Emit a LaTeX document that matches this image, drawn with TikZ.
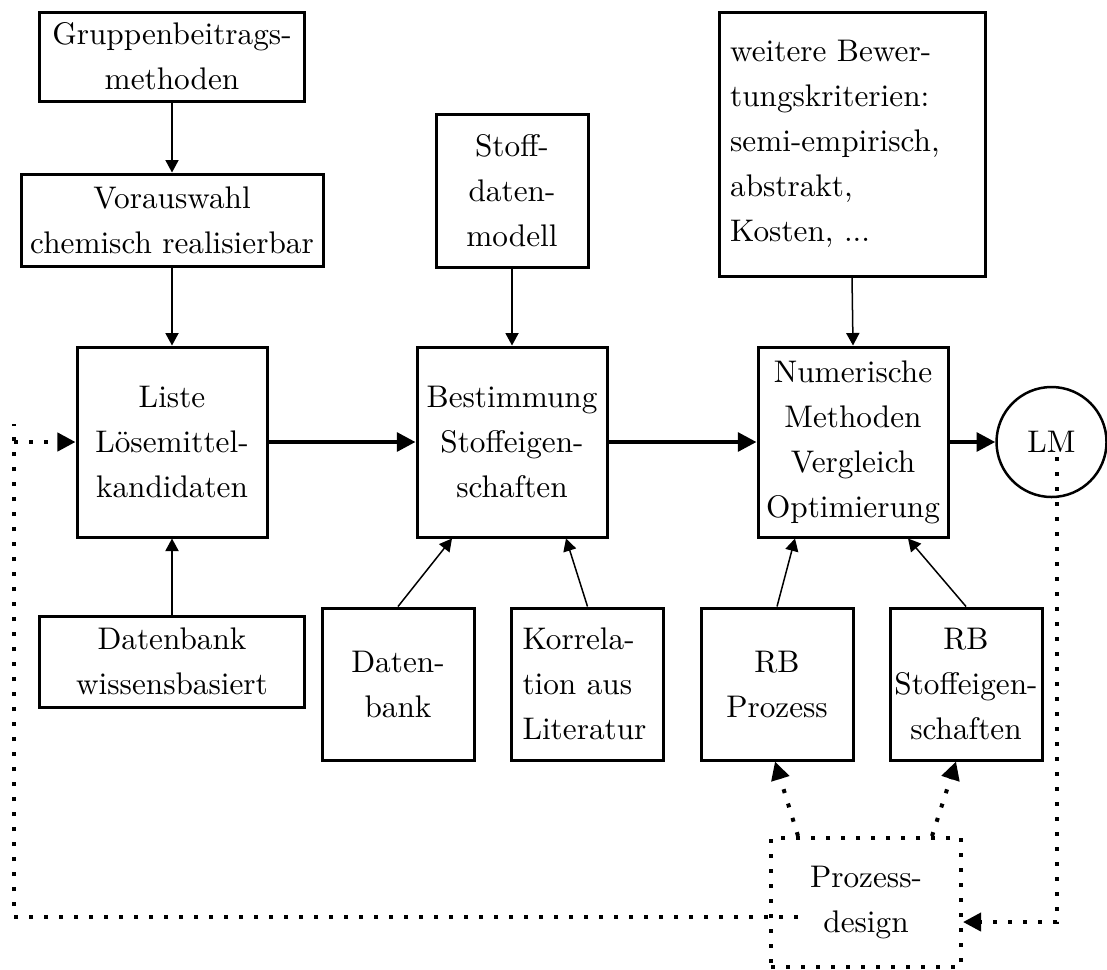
\documentclass[tikz,border=0pt]{standalone}
\usetikzlibrary{arrows.meta,calc}
\begin{document}
\begin{tikzpicture}[x=0.32pt,y=-0.32pt,
  every node/.style={font=\fontsize{10}{14.4}\selectfont},
  box/.style={draw,line width=0.96pt,inner sep=0pt,align=center},
  leftbox/.style={box,align=left},
  feed/.style={line width=0.48pt,-{Triangle[length=4pt,width=4.2pt]}},
  flow/.style={line width=1.28pt,-{Triangle[length=6pt,width=6pt]}},
  dots/.style={line width=1.28pt,dash pattern=on 1.28pt off 3.52pt},
  dotarrow/.style={dots,-{Triangle[length=5.8pt,width=5.8pt]}},
]
\useasboundingbox (0,0) rectangle (1107,969);

% left column
\node[box,minimum width=84.8pt,minimum height=28.48pt] (grp) at (172,56.5) {Gruppenbeitrags-\\methoden};
\node[box,minimum width=96.64pt,minimum height=29.44pt] (vor) at (172,220) {Vorauswahl\\chemisch realisierbar};
\node[box,minimum width=60.8pt,minimum height=60.8pt] (liste) at (172,442) {Liste\\Lösemittel-\\kandidaten};
\node[box,minimum width=84.8pt,minimum height=29.12pt] (dbw) at (172,661.5) {Datenbank\\wissensbasiert};

% middle column
\node[box,minimum width=48.64pt,minimum height=48.96pt] (stoff) at (512,190.5) {Stoff-\\daten-\\modell};
\node[box,minimum width=60.8pt,minimum height=60.8pt] (best) at (512,442) {Bestimmung\\Stoffeigen-\\schaften};
\node[box,minimum width=48.64pt,minimum height=48.64pt] (daten) at (398,684) {Daten-\\bank};
\node[leftbox,text width=41.6pt,minimum width=48.64pt,minimum height=48.64pt] (korr) at (587.5,684) {Korrela-\\tion aus\\Literatur};

% right column
\node[leftbox,text width=78pt,minimum width=85.12pt,minimum height=84.48pt] (weit) at (852,144) {weitere Bewer-\\tungskriterien:\\semi-empirisch,\\abstrakt,\\Kosten, ...};
\node[box,minimum width=60.8pt,minimum height=60.8pt] (num) at (853,442) {Numerische\\Methoden\\Vergleich\\Optimierung};
\node[draw,circle,line width=0.8pt,inner sep=0pt,minimum size=35.2pt] (lm) at (1051.5,442) {LM};
\node[box,minimum width=48.64pt,minimum height=48.64pt] (rbp) at (777,684) {RB\\Prozess};
\node[box,minimum width=48.64pt,minimum height=48.64pt] (rbs) at (966,684) {RB\\Stoffeigen-\\schaften};
\node[box,dots,minimum width=60.8pt,minimum height=41.28pt] (design) at (866,902.5) {Prozess-\\design};

% feeding arrows
\draw[feed] (grp.south) -- (vor.north);
\draw[feed] (vor.south) -- (liste.north);
\draw[feed] (dbw.north) -- (liste.south);
\draw[feed] (stoff.south) -- (best.north);
\draw[feed] (daten.north) -- ($(best.south)+(-60,0)$);
\draw[feed] (korr.north) -- ($(best.south)+(54,0)$);
\draw[feed] (weit.south) -- (num.north);
\draw[feed] (rbp.north) -- ($(num.south)+(-58,0)$);
\draw[feed] (rbs.north) -- ($(num.south)+(55,0)$);

% main flow
\draw[flow] (liste.east) -- (best.west);
\draw[flow] (best.east) -- (num.west);
\draw[flow] (num.east) -- (lm.west);

% feedback loops
\coordinate (lmtail) at (1057,457);
\coordinate (dsin) at ($(design.east)+(0,19.5)$);
\draw[dotarrow] (lmtail) |- (dsin);
\draw[dotarrow] ($(design.north west)+(29,0)$) -- ($(rbp.south)+(-2,0)$);
\draw[dotarrow] ($(design.north east)+(-31,0)$) -- ($(rbs.south)+(-10,0)$);
\coordinate (dsout) at ($(design.west)+(29,14.5)$);
\coordinate (ltop) at (14,424);
\coordinate (lturn) at (14,442);
\draw[dotarrow] (dsout) -| (ltop) (lturn) -- (liste.west);
\end{tikzpicture}
\end{document}
